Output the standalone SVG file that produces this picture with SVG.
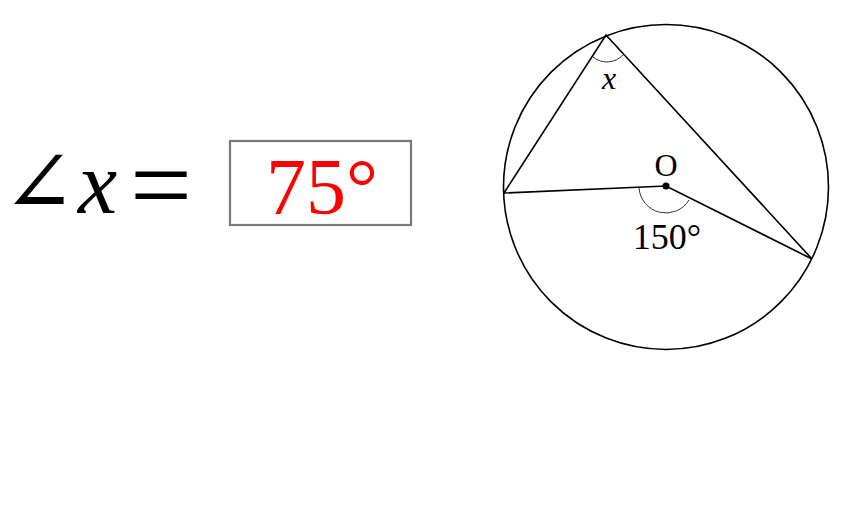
<svg xmlns="http://www.w3.org/2000/svg" width="850" height="507" viewBox="0 0 850 507">
<style>
.ln{fill:none;stroke:#000;stroke-width:1.6}
.arc{fill:none;stroke:#000;stroke-width:0.8}
.t{font-family:"Liberation Serif","DejaVu Serif",serif;fill:#000}
.i{font-style:italic}
</style>
<rect width="850" height="507" fill="#fff"/>
<g id="equation">
<text class="t" y="213"><tspan x="2" font-family="DejaVu Serif" font-size="88">∠</tspan><tspan x="78" font-style="italic" font-size="88">x</tspan><tspan x="130" dy="9" font-size="110">=</tspan></text>
</g>
<g id="answer-box">
<rect x="230" y="141" width="181" height="84" fill="#fff" stroke="#777" stroke-width="2.2"/>
<text class="t" x="266" y="214" font-size="80" style="fill:#f00">75°</text>
</g>
<g id="circle">
<circle cx="666" cy="187" r="162.5" class="ln"/>
</g>
<g id="connectors">
<polyline class="ln" points="504,193 606,35 812,259"/>
<polyline class="ln" points="504,193 666,186 812,259"/>
<path class="arc" d="M593,57 A22,22 0 0 0 623,55"/>
<path class="arc" d="M639,188 A27,27 0 0 0 689,200"/>
</g>
<g id="labels">
<circle cx="666" cy="186" r="3.5" fill="#000"/>
<text class="t" x="666" y="176" font-size="32" text-anchor="middle">O</text>
<text class="t" x="667" y="249" font-size="36" text-anchor="middle">150°</text>
<text class="t i" x="609" y="89" font-size="32" text-anchor="middle">x</text>
</g>
</svg>
